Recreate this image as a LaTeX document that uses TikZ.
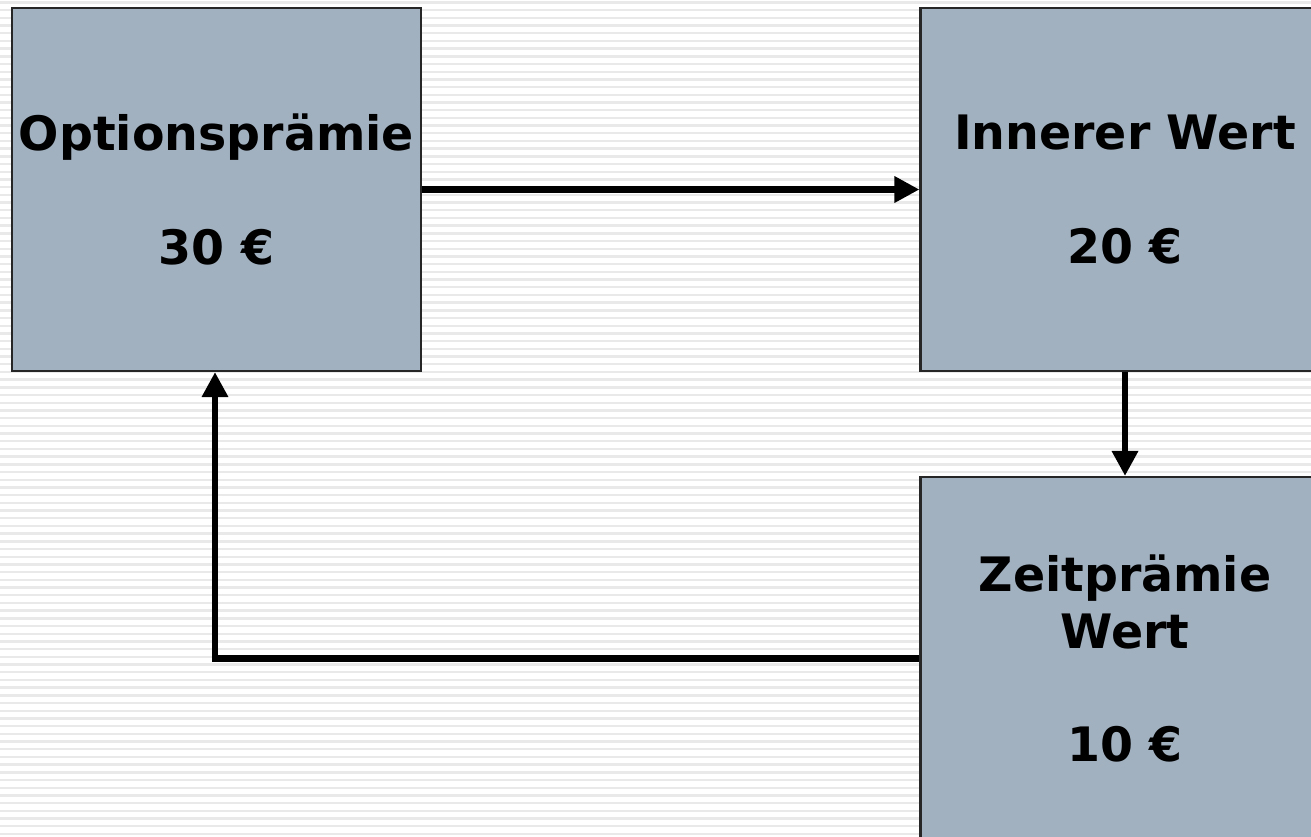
\documentclass[tikz,border=0pt]{standalone}
\usepackage{fontspec}
\setmainfont{DejaVu Sans}
\usetikzlibrary{arrows.meta}
\definecolor{boxfill}{HTML}{A2B1C0}
\definecolor{stripe}{HTML}{E9E9E9}
\tikzset{
  valuebox/.style={draw=black!85, line width=0.6pt, fill=boxfill,
    minimum width=4.09cm, minimum height=3.63cm, inner sep=0pt,
    align=center, font=\bfseries\fontsize{13.5}{16.2}\selectfont},
  flow/.style={line width=1.9pt, -{Triangle[width=0.25cm,length=0.25cm]}}
}
\begin{document}
\begin{tikzpicture}
\useasboundingbox (0,0) rectangle (13.11,8.36);
\clip (0,0) rectangle (13.11,8.36);
% striped background
\fill[white] (0,0) rectangle (13.11,8.36);
\foreach \k in {0,...,108} {
  \pgfmathsetmacro{\yy}{8.36-0.024-0.077*\k}
  \fill[stripe] (0,\yy-0.012) rectangle (13.11,\yy+0.012);
}
% boxes
\node[valuebox] (premium) at (2.165,6.465) {Optionsprämie\\[16.2pt]30 €};
\node[valuebox] (intrinsic) at (11.25,6.465) {Innerer Wert\\[16.2pt]20 €};
\node[valuebox] (timevalue) at (11.25,1.775) {Zeitprämie\\Wert\\[16.2pt]10 €};
% connectors
\draw[flow] (premium.east) -- (intrinsic.west);
\draw[flow] (intrinsic.south) -- (timevalue.north);
\draw[flow] (timevalue.west) -| ([xshift=-0.015cm]premium.south);
\end{tikzpicture}
\end{document}
